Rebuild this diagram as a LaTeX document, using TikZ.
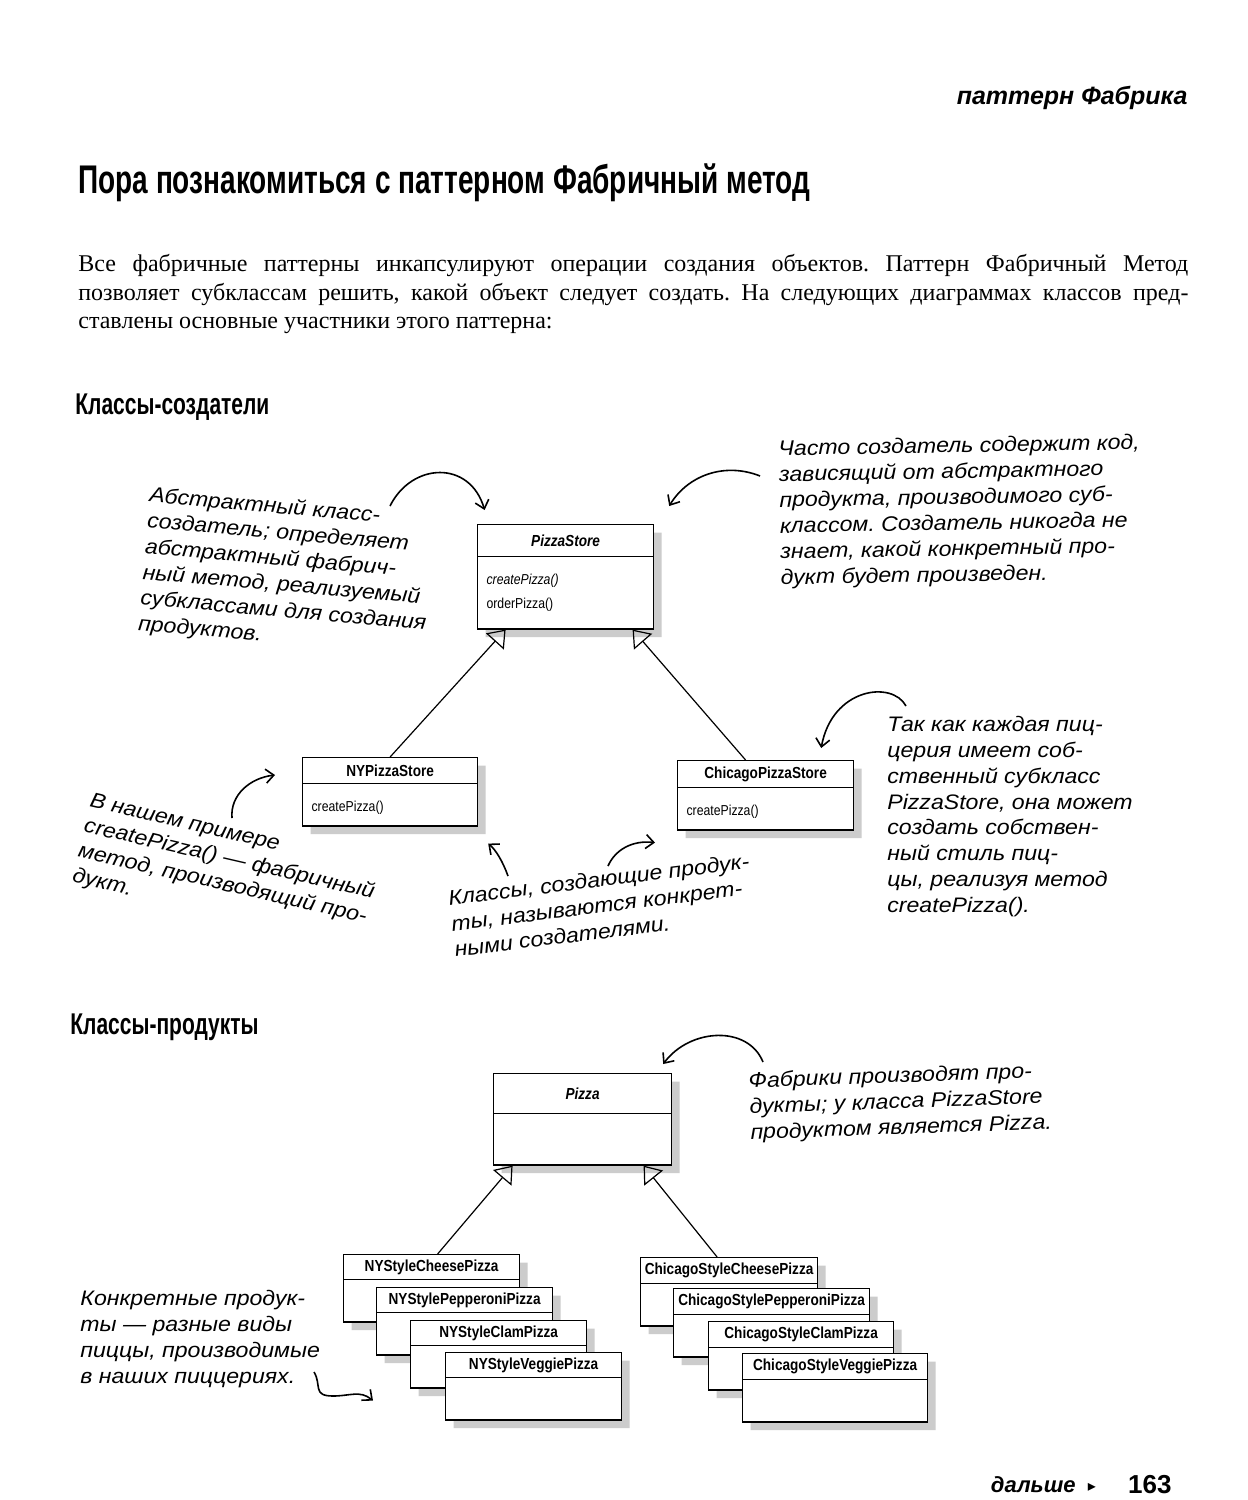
\documentclass[tikz,border=0pt]{standalone}
\usepackage{fontspec}
\setmainfont{Liberation Serif}
\newfontfamily\umlfont{Liberation Sans}[FakeStretch=0.85]
\newfontfamily\handfont{Liberation Sans}[FakeStretch=1.1]
\newfontfamily\headfont{Liberation Sans}[FakeStretch=0.7]
\newfontfamily\sansfont{Liberation Sans}
\newfontfamily\symfont{DejaVu Sans}
\usetikzlibrary{arrows.meta,shapes.multipart,shadows,positioning}
\frenchspacing

% class compartments: width, height, text
\newcommand{\chead}[3]{\parbox[c][#2][c]{#1}{\centering\fontsize{8}{9}\selectfont\bfseries #3}}
\newcommand{\cbody}[3]{\parbox[c][#2][t]{#1}{\fontsize{7.2}{12}\selectfont\leftskip=4.5pt #3}}

\begin{document}
\begin{tikzpicture}[x=0.5pt,y=-0.5pt,
 umlclass/.style={rectangle split, rectangle split parts=2, draw, line width=0.6pt, fill=white,
  inner sep=0pt, anchor=north west, font=\umlfont,
  drop shadow={shadow xshift=4pt, shadow yshift=-4pt, fill=gray!40, opacity=1}},
 note/.style={font=\handfont\itshape\fontsize{10.5}{12.9}\selectfont, align=left, inner sep=0pt, anchor=north west},
 handarrow/.style={-{Straight Barb[length=4pt,width=7pt]}, line width=0.8pt},
 inherit/.style={-{Triangle[open,length=8pt,width=12pt]}, line width=0.6pt}]
 \useasboundingbox (0,0) rectangle (1248,1500);
 \fill[white] (0,0) rectangle (1248,1500);

 % page texts
 \node[anchor=base east, inner sep=0pt, font=\sansfont\bfseries\itshape\fontsize{12.5}{15}\selectfont] (runhead) at (1188,104) {паттерн Фабрика};
 \node[anchor=base west, inner sep=0pt, font=\headfont\bfseries\fontsize{20}{24}\selectfont] (title) at (78,193) {Пора познакомиться с паттерном Фабричный метод};
 \node[anchor=north west, inner sep=0pt, text width=555pt, align=justify, font=\fontsize{12}{14.3}\selectfont] (intro) at (78,254)
  {Все фабричные паттерны инкапсулируют операции создания объектов. Паттерн Фабричный Метод\linebreak
   позволяет субклассам решить, какой объект следует создать. На следующих диаграммах классов пред-\linebreak
   ставлены основные участники этого паттерна:};
 \node[anchor=base west, inner sep=0pt, font=\headfont\bfseries\fontsize{15}{18}\selectfont] (creators) at (75,414) {Классы-создатели};
 \node[anchor=base west, inner sep=0pt, font=\headfont\bfseries\fontsize{15}{18}\selectfont] (products) at (70,1034) {Классы-продукты};

 % creator classes
 \node[umlclass] (ps) at (477,524) {\chead{88pt}{15.5pt}{\itshape PizzaStore}\nodepart{two}\cbody{88pt}{35.5pt}{\vspace{8.5pt}\itshape createPizza()\\ \upshape orderPizza()}};
 \node[umlclass] (ny) at (302,757) {\chead{87.5pt}{12.5pt}{NYPizzaStore}\nodepart{two}\cbody{87.5pt}{20.5pt}{\vspace{8.5pt}createPizza()}};
 \node[umlclass] (chi) at (677,760) {\chead{88pt}{13pt}{ChicagoPizzaStore}\nodepart{two}\cbody{88pt}{20.5pt}{\vspace{8.5pt}createPizza()}};
 \draw[inherit] (ny.north) -- ([xshift=-30pt]ps.south);
 \draw[inherit] ([xshift=-10pt]chi.north) -- ([xshift=33.5pt]ps.south);

 % product classes
 \node[umlclass] (pizza) at (493,1073) {\chead{89pt}{19.5pt}{\itshape Pizza}\nodepart{two}\cbody{89pt}{25pt}{}};
 \node[umlclass] (nyche) at (343,1254) {\chead{88pt}{12pt}{NYStyleCheesePizza}\nodepart{two}\cbody{88pt}{20.5pt}{}};
 \node[umlclass] (nypep) at (376,1287) {\chead{88pt}{12pt}{NYStylePepperoniPizza}\nodepart{two}\cbody{88pt}{20.5pt}{}};
 \node[umlclass] (nycla) at (410,1320) {\chead{88pt}{12pt}{NYStyleClamPizza}\nodepart{two}\cbody{88pt}{20.5pt}{}};
 \node[umlclass] (nyveg) at (445,1352) {\chead{88pt}{12pt}{NYStyleVeggiePizza}\nodepart{two}\cbody{88pt}{20.5pt}{}};
 \node[umlclass] (chche) at (640,1257) {\chead{88.5pt}{12.5pt}{ChicagoStyleCheesePizza}\nodepart{two}\cbody{88.5pt}{20.5pt}{}};
 \node[umlclass] (chpep) at (673,1288) {\chead{98pt}{12.5pt}{ChicagoStylePepperoniPizza}\nodepart{two}\cbody{98pt}{20.5pt}{}};
 \node[umlclass] (chcla) at (708,1321) {\chead{92.5pt}{12.5pt}{ChicagoStyleClamPizza}\nodepart{two}\cbody{92.5pt}{20.5pt}{}};
 \node[umlclass] (chveg) at (742,1353) {\chead{92.5pt}{12.5pt}{ChicagoStyleVeggiePizza}\nodepart{two}\cbody{92.5pt}{20.5pt}{}};
 \draw[inherit] ([xshift=3pt]nyche.north) -- ([xshift=-35pt]pizza.south);
 \draw[inherit] ([xshift=-6pt]chche.north) -- ([xshift=30.5pt]pizza.south);

 % handwritten notes
 \node[note, rotate=-5] (abstr) at (150,486) {Абстрактный класс-\\создатель; определяет\\абстрактный фабрич-\\ный метод, реализуемый\\субклассами для создания\\продуктов.};
 \node[note, rotate=1] (often) at (778,440) {Часто создатель содержит код,\\зависящий от абстрактного\\продукта, производимого суб-\\классом. Создатель никогда не\\знает, какой конкретный про-\\дукт будет произведен.};
 \node[note] (each) at (887,716) {Так как каждая пиц-\\церия имеет соб-\\ственный субкласс\\PizzaStore, она может\\создать собствен-\\ный стиль пиц-\\цы, реализуя метод\\createPizza().};
 \node[note, rotate=-13] (nyex) at (92,792) {В нашем примере\\createPizza() — фабричный\\метод, производящий про-\\дукт.};
 \node[note, rotate=7] (concr) at (447,890) {Классы, создающие продук-\\ты, называются конкрет-\\ными создателями.};
 \node[note, rotate=2] (fact) at (748,1072) {Фабрики производят про-\\дукты; у класса PizzaStore\\продуктом является Pizza.};
 \node[note] (prods) at (80,1290) {Конкретные продук-\\ты — разные виды\\пиццы, производимые\\в наших пиццериях.};

 % hand drawn arrows
 \coordinate (a1) at (390,506);
 \coordinate (a2) at (760,476);
 \coordinate (a3) at (906,706);
 \coordinate (a4) at (232,818);
 \coordinate (a5) at (508,876);
 \coordinate (a6) at (608,866);
 \coordinate (a7) at (763,1062);
 \coordinate (a8) at (314,1372);
 \draw[handarrow] (a1) .. controls (412,462) and (470,460) .. ([xshift=-40.5pt,yshift=7pt]ps.north);
 \draw[handarrow] (a2) .. controls (725,462) and (688,475) .. ([xshift=7.5pt,yshift=9pt]ps.north east);
 \draw[handarrow] (a3) .. controls (892,680) and (832,688) .. ([xshift=-16.5pt,yshift=6pt]chi.north east);
 \draw[handarrow] (a4) .. controls (230,795) and (250,778) .. ([xshift=-13.5pt,yshift=-9pt]ny.north west);
 \draw[handarrow] (a5) .. controls (503,862) and (496,850) .. ([xshift=5pt,yshift=-8.5pt]ny.south east);
 \draw[handarrow] (a6) .. controls (615,850) and (632,840) .. ([xshift=-11pt,yshift=-6pt]chi.south west);
 \draw[handarrow] (a7) .. controls (748,1025) and (690,1028) .. ([xshift=-4.5pt,yshift=4.5pt]pizza.north east);
 \draw[handarrow] (a8) .. controls (322,1385) and (312,1396) .. (333,1396) .. controls (350,1396) and (360,1390) .. ([xshift=-18.5pt,yshift=-6pt]nycla.south west);

 % footer
 \node[anchor=base east, inner sep=0pt, font=\sansfont\bfseries\itshape\fontsize{11}{13}\selectfont] (next) at (1076,1492) {дальше};
 \node[anchor=base, inner sep=0pt, font=\symfont\fontsize{8}{10}\selectfont] (nexttri) at (1092,1491) {▸};
 \node[anchor=base east, inner sep=0pt, font=\sansfont\bfseries\fontsize{13}{15}\selectfont] (page) at (1172,1493) {163};
\end{tikzpicture}
\end{document}
